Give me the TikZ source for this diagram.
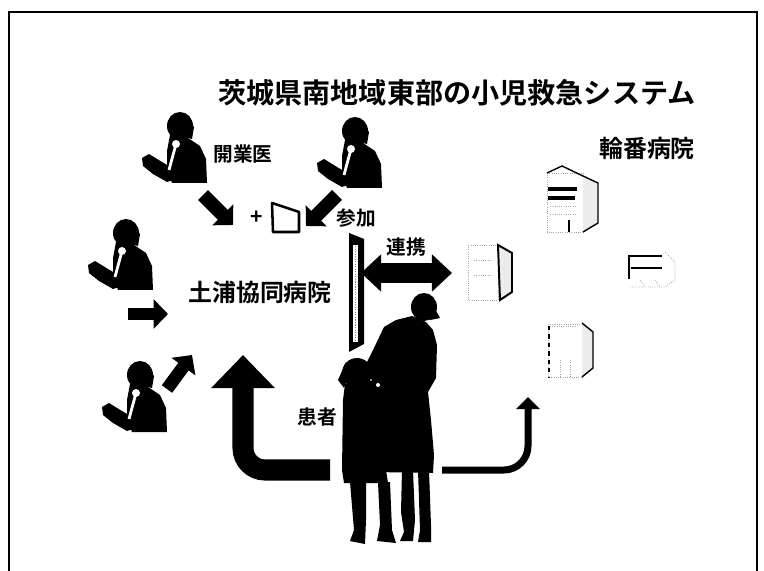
\documentclass[tikz,border=0pt]{standalone}
\usepackage{fontspec}
\newfontfamily\jpfont{Noto Sans CJK JP}[BoldFont={Noto Sans CJK JP Bold}]
\usetikzlibrary{arrows.meta}

\tikzset{
  jlabel/.style={font=\jpfont\bfseries\fontsize{14}{16}\selectfont,inner sep=0pt},
  jbig/.style={font=\jpfont\bfseries\fontsize{17}{19}\selectfont,inner sep=0pt},
  faint/.style={gray!70,densely dotted,line width=0.6pt},
  edge/.style={black,line width=1pt},
  sendarrow/.style={line width=0.35cm,-{Triangle[length=0.36cm,width=0.72cm]}},
  %% doctor on the phone with a chart, about 67 x 70 px
  doctor/.pic={
    \fill (2,45) -- (9,41) -- (22,49) -- (34,56) -- (36,66) -- (27,69) -- (13,61) -- (3,53) -- cycle;
    \fill (30,22) -- (48,25) -- (60,33) -- (66,46) -- (67,70) -- (32,70) -- (27,56) -- (27,38) -- cycle;
    \fill (40,13) ellipse [x radius=13, y radius=14];
    \fill (47,4) -- (54,14) -- (52,26) -- (44,24) -- cycle;
    \draw[white,line width=2pt] (36,31) -- (29,57);
    \fill[white] (36,31) circle [radius=4];
  }
}

\begin{document}
\begin{tikzpicture}[x=0.025cm,y=-0.025cm]
  \fill[white] (0,0) rectangle (764,571);
  \useasboundingbox (0,0) rectangle (764,571);
  \draw[line width=1.4pt] (9,571) -- (9,12) -- (757,12) -- (757,571);

  %% title
  \node[font=\jpfont\bfseries\fontsize{20}{24}\selectfont,inner sep=0pt] (title) at (457,93)
        {茨城県南地域東部の小児救急システム};

  %% practitioners
  \pic (d1) at (140,113) {doctor};
  \pic (d2) at (315,118) {doctor};
  \pic (d3) at (86,220) {doctor};
  \pic (d4) at (100,362) {doctor};
  \node[jlabel] (kaigyoui) at (243,154) {開業医};
  \node[jlabel] (sanka) at (356,218) {参加};
  \node[jlabel,font=\jpfont\bfseries\fontsize{15}{16}\selectfont] (plus) at (257,218) {+};
  \draw[line width=1.8pt,line join=round] (272,203) -- (299,212) -- (299,232) -- (273,232) -- cycle;

  \coordinate (d1-out) at (203,195);  \coordinate (d1-in) at (233,225);
  \coordinate (d2-out) at (337,195);  \coordinate (d2-in) at (306,226);
  \coordinate (d3-out) at (128,314);  \coordinate (d3-in) at (168,314);
  \coordinate (d4-out) at (167,389);  \coordinate (d4-in) at (192,355);
  \draw[sendarrow] (d1-out) -- (d1-in);
  \draw[sendarrow] (d2-out) -- (d2-in);
  \draw[sendarrow,line width=0.3cm] (d3-out) -- (d3-in);
  \draw[sendarrow,line width=0.32cm] (d4-out) -- (d4-in);

  %% Tsuchiura Kyodo hospital
  \node[jbig] (kyodo) at (260,292) {土浦協同病院};
  \fill (349,233) -- (364,239) -- (364,344) -- (349,352) -- cycle;
  \fill[white] (353,245) rectangle (358,342);
  \draw[gray,densely dotted,line width=0.8pt] (355.5,246) -- (355.5,341);

  %% cooperation
  \node[jlabel] (renkei) at (406,247) {連携};
  \coordinate (link-l) at (361,273);
  \coordinate (link-r) at (452,273);
  \draw[line width=0.475cm,{Triangle[length=0.5cm,width=0.9cm]}-{Triangle[length=0.5cm,width=0.9cm]}]
        (link-l) -- (link-r);

  %% rotation hospitals
  \node[jbig] (rinban) at (647,148) {輪番病院};
  % tall building
  \draw[faint] (547,173) rectangle (583,232);
  \draw[edge] (547,173) -- (562,166) -- (583,176);
  \fill[gray!15] (583,176) -- (598,183) -- (598,223) -- (583,232) -- cycle;
  \draw[edge] (583,176) -- (598,183) -- (598,223) -- (583,232);
  \fill (548,187) rectangle (577,191);
  \fill (548,196) rectangle (575,200);
  \draw[faint] (550,206) -- (575,206) (550,214) -- (575,214);
  \fill (568,220) rectangle (570,232);
  % low building
  \draw[line width=1.6pt] (629,279) -- (629,256) -- (662,256);
  \draw[line width=1.2pt] (631,268) -- (662,268);
  \draw[faint] (665,252) -- (675,262) -- (675,280) -- (665,287) -- (629,287);
  \draw[faint] (640,280) -- (645,287) (655,280) -- (660,287);
  % building beside the link
  \draw[faint] (468,245) rectangle (498,300);
  \fill[gray!15] (498,245) -- (512,253) -- (512,292) -- (500,300) -- cycle;
  \draw[edge,line width=1.4pt] (498,245) -- (512,253) -- (512,292) -- (500,300) -- cycle;
  \draw[faint] (474,260) -- (490,260) (474,275) -- (490,275);
  % lower building
  \draw[faint] (548,324) rectangle (582,377);
  \draw[line width=1.4pt,dashed] (549,326) -- (549,377);
  \fill[gray!15] (582,323) -- (593,332) -- (593,368) -- (582,377) -- cycle;
  \draw[edge] (582,323) -- (593,332) -- (593,368) -- (582,377);
  \draw[faint] (552,326) -- (575,326) (560,360) -- (560,377) (570,360) -- (570,377);

  %% patients: mother and child
  \fill (424,307) ellipse [x radius=13, y radius=14];
  \fill (428,296) -- (440,318) -- (430,320) -- cycle;
  \fill (412,316) -- (396,320) -- (384,327) -- (374,348) -- (364,368) -- (372,380)
        -- (374,472) -- (433,473) -- (434,455) -- (431,420) -- (428,392) -- (436,378)
        -- (437,345) -- (433,330) -- (426,322) -- cycle;
  \fill (402,470) -- (401,512) -- (404,532) -- (400,541) -- (413,541) -- (415,520) -- (413,470) -- cycle;
  \fill (418,470) -- (420,530) -- (418,542) -- (431,542) -- (431,525) -- (429,470) -- cycle;
  \fill (357,373) ellipse [x radius=15, y radius=15];
  \fill (346,362) -- (338,380) -- (344,388) -- (350,372) -- cycle;
  \fill (345,384) -- (375,380) -- (385,392) -- (386,470) -- (388,483) -- (344,483)
        -- (342,470) -- (343,400) -- cycle;
  \fill (350,482) -- (354,530) -- (350,541) -- (365,544) -- (366,520) -- (366,482) -- cycle;
  \fill (378,482) -- (380,525) -- (377,541) -- (396,543) -- (392,530) -- (390,482) -- cycle;
  \fill[white] (378,385) circle [radius=2];
  \node[jlabel] (kanja) at (317,417) {患者};

  \coordinate (pt-left) at (330,470);
  \coordinate (kyodo-in) at (243,355);
  \coordinate (pt-right) at (442,470);
  \coordinate (rinban-in) at (528,397);
  \draw[line width=0.525cm,rounded corners=0.55cm,-{Triangle[length=0.83cm,width=1.55cm]}]
        (pt-left) -- (kyodo-in |- pt-left) -- (kyodo-in);
  \draw[line width=0.175cm,rounded corners=0.6cm,-{Triangle[length=0.3cm,width=0.58cm]}]
        (pt-right) -- (rinban-in |- pt-right) -- (rinban-in);
\end{tikzpicture}
\end{document}
